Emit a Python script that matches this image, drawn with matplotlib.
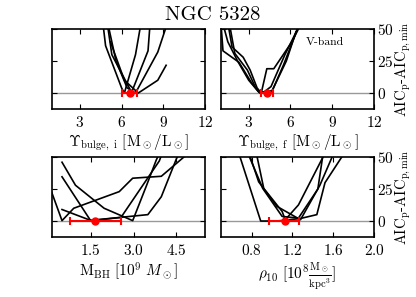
import numpy as np
import matplotlib
matplotlib.use('Agg')
import matplotlib.pyplot as plt

plt.rcParams['font.family'] = 'cmr10'
plt.rcParams['mathtext.fontset'] = 'cm'
plt.rcParams['axes.unicode_minus'] = False
plt.rcParams['axes.formatter.use_mathtext'] = True

# top-left: Upsilon bulge, i
ups_i_x = [[4.6, 4.85, 6.0, 6.2, 7.0, 7.4],
           [4.9, 5.3, 6.6, 6.7, 7.9, 8.05],
           [5.0, 5.6, 6.4, 7.0, 8.6, 9.3],
           [5.2, 6.2, 7.2, 8.6, 9.2]]
ups_i_y = [[60, 37, 4, 0, 30, 55],
           [60, 30, 3, 0, 33, 55],
           [55, 25, 4, 0, 32, 55],
           [40, 10, 0, 10, 21.7]]
ups_i_best, ups_i_err = 6.6, (0.55, 0.5)

# top-right: Upsilon bulge, f
ups_f_x = [[1.0, 1.15, 2.3, 3.2, 3.75, 4.0, 4.6, 5.6, 6.6],
           [1.5, 1.8, 2.6, 3.1, 3.6, 3.9, 4.3, 4.8, 6.1, 6.8],
           [1.6, 2.0, 2.9, 3.5, 3.8, 4.7, 5.5, 6.5],
           [1.2, 1.5, 2.2, 3.0, 3.7, 4.6, 5.7, 6.4]]
ups_f_y = [[55, 33, 24, 8, 0.5, 0, 5, 30, 52],
           [55, 36, 28, 18, 4, 0, 19, 19, 40, 55],
           [55, 31, 18, 4, 0, 2, 22, 50],
           [52, 40, 25, 10, 1, 0, 25, 48]]
ups_f_best, ups_f_err = 4.3, (0.43, 0.44)

# bottom-left: M_BH
mbh_x = [[0.09, 0.5, 0.91, 2.5, 2.97, 3.97, 4.73, 4.9],
         [0.5, 0.97, 1.97, 2.97, 3.44, 3.79, 3.9],
         [0.5, 1.5, 2.56, 3.9, 4.0],
         [0.5, 1.5, 2.6, 3.5, 3.97, 4.5, 4.6]]
mbh_y = [[25.5, 0.3, 10, 23, 33.5, 35, 49.5, 53],
         [46, 28, 10, 0.3, 27, 47.5, 53],
         [34.6, 0.3, 2.8, 47, 53],
         [9, 0.5, 3, 5, 19, 48.8, 53]]
mbh_best, mbh_err = 1.66, (0.89, 0.89)

# bottom-right: rho_10
rho_x = [[0.68, 0.89, 1.05, 1.28, 1.44, 1.52, 1.70],
         [0.77, 0.91, 1.10, 1.26, 1.45, 1.50],
         [0.78, 0.87, 1.05, 1.28, 1.47, 1.60],
         [0.85, 0.92, 1.10, 1.13, 1.26, 1.50]]
rho_y = [[52, 0, 0, 2, 5, 30, 52],
         [52, 25.5, 3.6, 2.3, 25, 52],
         [52, 30.7, 11.4, 1.0, 28, 52],
         [52, 25.5, 7.5, 1.0, 12.6, 50]]
rho_best, rho_err = 1.125, (0.155, 0.145)

panels = [
    (ups_i_x, ups_i_y, ups_i_best, ups_i_err, (1, 12), [3, 6, 9, 12],
     r'$\Upsilon_{\rm bulge,\ i}\ [\rm M_\odot/L_\odot]$'),
    (ups_f_x, ups_f_y, ups_f_best, ups_f_err, (1, 12), [3, 6, 9, 12],
     r'$\Upsilon_{\rm bulge,\ f}\ [\rm M_\odot/L_\odot]$'),
    (mbh_x, mbh_y, mbh_best, mbh_err, (0.15, 5.5), [1.5, 3.0, 4.5],
     r'$\rm M_{BH}\ [10^9\ \mathit{M}_\odot]$'),
    (rho_x, rho_y, rho_best, rho_err, (0.5, 2.0), [0.8, 1.2, 1.6, 2.0],
     r'$\rho_{10}\ [10^8\frac{\rm M_\odot}{\rm kpc^3}]$'),
]

fig = plt.figure(figsize=(4.16, 2.97), dpi=100)
lefts = [0.125, 0.531, 0.125, 0.531]
bottoms = [0.633, 0.633, 0.202, 0.202]

for i, (xs, ys, best, err, xlim, xt, xlabel) in enumerate(panels):
    ax = fig.add_axes([lefts[i], bottoms[i], 0.368, 0.269])
    ax.axhline(0, color='#999999', lw=1.0, zorder=1)
    for x, y in zip(xs, ys):
        ax.plot(x, y, color='black', lw=1.2, zorder=2)
    ax.errorbar([best], [0], xerr=[[err[0]], [err[1]]], fmt='o', color='red',
                ms=5, lw=1.5, capsize=3, capthick=1.5, zorder=3)
    ax.set_xlim(*xlim)
    ax.set_ylim(-12.5, 50)
    ax.set_xticks(xt)
    ax.set_yticks([0, 25, 50])
    ax.tick_params(direction='in', top=True, right=True, left=True, length=3.5,
                   labelsize=11, pad=4)
    ax.set_xlabel(xlabel, fontsize=11, labelpad=2)
    if i % 2 == 0:
        ax.set_yticklabels([])
    else:
        ax.yaxis.set_label_position('right')
        ax.yaxis.tick_right()
        ax.tick_params(axis='y', direction='in', left=True, right=True, labelleft=False,
                       labelright=True, length=3.5, pad=2)
        ax.set_ylabel(r'AIC$_{\rm p}$-AIC$_{\rm p,min}$', fontsize=10.5, labelpad=0)
    for s in ax.spines.values():
        s.set_linewidth(1.2)
    if i == 1:
        ax.text(7.1, 40, 'V-band', fontsize=8.5, va='center')

fig.text(0.512, 0.95, 'NGC 5328', ha='center', va='center', fontsize=15)
fig.savefig('out.png', dpi=100)
